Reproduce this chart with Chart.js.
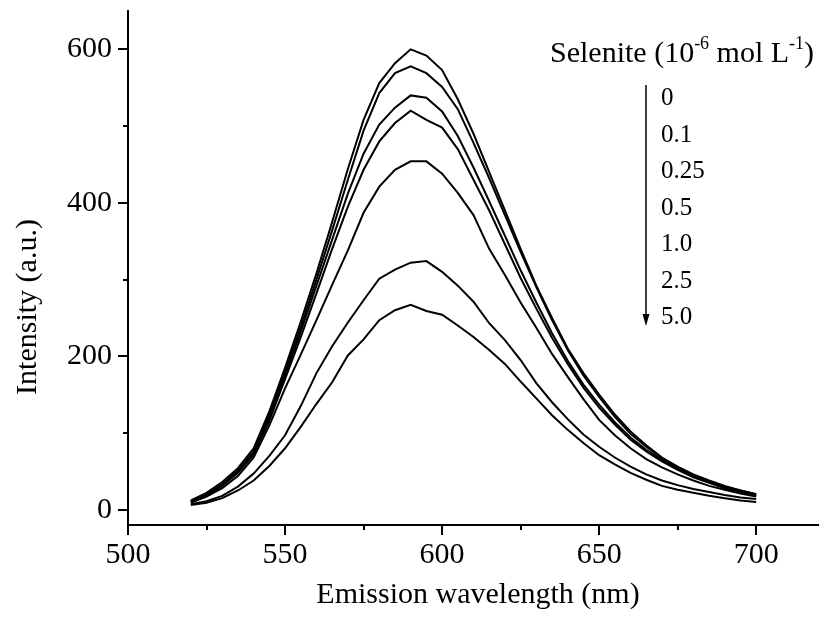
<!DOCTYPE html>
<html lang="en">
<head>
  <meta charset="UTF-8" />
  <title>Selenite emission spectra</title>
  <script src="https://cdn.jsdelivr.net/npm/chart.js@4"></script>
  <style>
    body { margin: 0; background: #fff; }
    canvas { display: block; }
  </style>
</head>
<body>
  <canvas id="spectra" width="819" height="619"></canvas>

  <script>
    // emission wavelength (nm)
    const wavelengths = [520, 525, 530, 535, 540, 545, 550, 555, 560, 565, 570, 575, 580, 585, 590, 595, 600, 605, 610,
      615, 620, 625, 630, 635, 640, 645, 650, 655, 660, 665, 670, 675, 680, 685, 690, 695, 700];

    // intensity (a.u.) for each selenite concentration
    const sel0   = [12, 22, 36, 54, 80, 128, 185, 245, 308, 375, 444, 508, 556, 582, 600, 592, 573, 535, 490,
      440, 390, 340, 292, 250, 210, 178, 150, 124, 102, 84, 68, 56, 46, 38, 31, 25, 20];
    const sel01  = [11, 20, 33, 51, 76, 124, 180, 238, 300, 364, 430, 494, 543, 569, 578, 569, 551, 522, 478,
      432, 384, 336, 290, 247, 208, 175, 147, 121, 99, 82, 67, 55, 45, 37, 30, 25, 20];
    const sel025 = [10, 19, 32, 50, 74, 120, 175, 232, 292, 352, 412, 464, 502, 524, 540, 537, 519, 487, 446,
      402, 357, 312, 270, 230, 194, 163, 137, 114, 94, 78, 65, 53, 44, 36, 29, 24, 19];
    const sel05  = [10, 18, 31, 48, 72, 116, 170, 225, 282, 340, 395, 443, 480, 504, 520, 508, 498, 470, 430,
      390, 346, 302, 262, 224, 190, 159, 133, 111, 91, 76, 63, 52, 42, 35, 28, 23, 18];
    const sel1   = [9, 17, 28, 44, 68, 110, 158, 202, 247, 293, 338, 387, 421, 443, 454, 454, 438, 413, 384,
      340, 306, 270, 237, 203, 173, 144, 117, 97, 80, 66, 55, 46, 38, 31, 26, 21, 17];
    const sel25  = [7, 11, 18, 30, 47, 70, 97, 135, 178, 213, 244, 273, 301, 313, 322, 324, 310, 292, 271,
      243, 221, 195, 165, 140, 118, 98, 82, 68, 56, 46, 38, 32, 27, 23, 19, 16, 14];
    const sel5   = [6, 9, 15, 25, 38, 57, 80, 108, 138, 166, 201, 222, 247, 260, 267, 259, 254, 240, 225,
      208, 190, 167, 145, 123, 104, 87, 71, 59, 48, 39, 31, 26, 22, 18, 15, 12, 10];

    const concLabels = ["0", "0.1", "0.25", "0.5", "1.0", "2.5", "5.0"];
    const allSeries = [sel0, sel01, sel025, sel05, sel1, sel25, sel5];

    const xTicks = [500, 550, 600, 650, 700];
    const xMinor = [525, 575, 625, 675];
    const yTicks = [0, 200, 400, 600];
    const yMinor = [100, 300, 500];

    const FONT = "'Liberation Serif', 'Times New Roman', serif";

    const datasets = allSeries.map((vals, i) => ({
      label: concLabels[i],
      data: vals.map((v, j) => ({ x: wavelengths[j], y: v })),
      borderColor: '#000',
      borderWidth: 2,
      pointRadius: 0,
      tension: 0,
      fill: false
    }));

    // minor ticks, axis titles and the concentration key
    const extras = {
      id: 'extras',
      afterDraw(chart) {
        const ctx = chart.ctx;
        const xs = chart.scales.x, ys = chart.scales.y;
        const area = chart.chartArea;
        ctx.save();
        ctx.strokeStyle = '#000';
        ctx.lineWidth = 2;
        ctx.beginPath();
        xMinor.forEach(v => {
          const px = Math.round(xs.getPixelForValue(v));
          ctx.moveTo(px, area.bottom);
          ctx.lineTo(px, area.bottom + 5);
        });
        yMinor.forEach(v => {
          const py = Math.round(ys.getPixelForValue(v));
          ctx.moveTo(area.left, py);
          ctx.lineTo(area.left - 5, py);
        });
        ctx.stroke();

        ctx.fillStyle = '#000';
        // axis titles
        ctx.font = '30px ' + FONT;
        ctx.textAlign = 'center';
        ctx.textBaseline = 'alphabetic';
        ctx.fillText('Emission wavelength (nm)', 478, 603);
        ctx.save();
        ctx.translate(36, 307);
        ctx.rotate(-Math.PI / 2);
        ctx.fillText('Intensity (a.u.)', 0, 0);
        ctx.restore();

        // key title with superscripts
        ctx.textAlign = 'left';
        let x = 550;
        const base = 62;
        const parts = [
          ['Selenite (10', 30, 0],
          ['-6', 18, -13],
          [' mol L', 30, 0],
          ['-1', 18, -13],
          [')', 30, 0]
        ];
        parts.forEach(([t, size, dy]) => {
          ctx.font = size + 'px ' + FONT;
          ctx.fillText(t, x, base + dy);
          x += ctx.measureText(t).width;
        });

        // arrow
        ctx.beginPath();
        ctx.moveTo(646, 85);
        ctx.lineTo(646, 318);
        ctx.lineWidth = 1.5;
        ctx.stroke();
        ctx.beginPath();
        ctx.moveTo(642.5, 314);
        ctx.lineTo(649.5, 314);
        ctx.lineTo(646, 326);
        ctx.closePath();
        ctx.fill();

        ctx.font = '25px ' + FONT;
        concLabels.forEach((t, i) => {
          ctx.fillText(t, 661, 105 + i * 36.5);
        });
        ctx.restore();
      }
    };

    new Chart(document.getElementById('spectra'), {
      type: 'line',
      data: { datasets },
      options: {
        responsive: false,
        animation: false,
        layout: { padding: { top: 11, right: 0, left: 0, bottom: 0 } },
        plugins: { legend: { display: false }, tooltip: { enabled: false } },
        scales: {
          x: {
            type: 'linear',
            min: 500,
            max: 720,
            afterBuildTicks: s => { s.ticks = xTicks.map(v => ({ value: v })); },
            afterFit: s => { s.height = 94; s.paddingLeft = 0; s.paddingRight = 0; },
            border: { color: '#000', width: 2 },
            grid: { drawOnChartArea: false, drawTicks: true, tickLength: 10, color: '#000', lineWidth: 2 },
            ticks: { color: '#000', padding: 2, maxRotation: 0, font: { family: FONT, size: 30 } }
          },
          y: {
            type: 'linear',
            min: -20,
            max: 650,
            afterBuildTicks: s => { s.ticks = yTicks.map(v => ({ value: v })); },
            afterFit: s => { s.width = 128; s.paddingTop = 0; s.paddingBottom = 0; },
            border: { color: '#000', width: 2 },
            grid: { drawOnChartArea: false, drawTicks: true, tickLength: 10, color: '#000', lineWidth: 2 },
            ticks: { color: '#000', padding: 6, font: { family: FONT, size: 30 } }
          }
        }
      },
      plugins: [extras]
    });
  </script>
</body>
</html>
